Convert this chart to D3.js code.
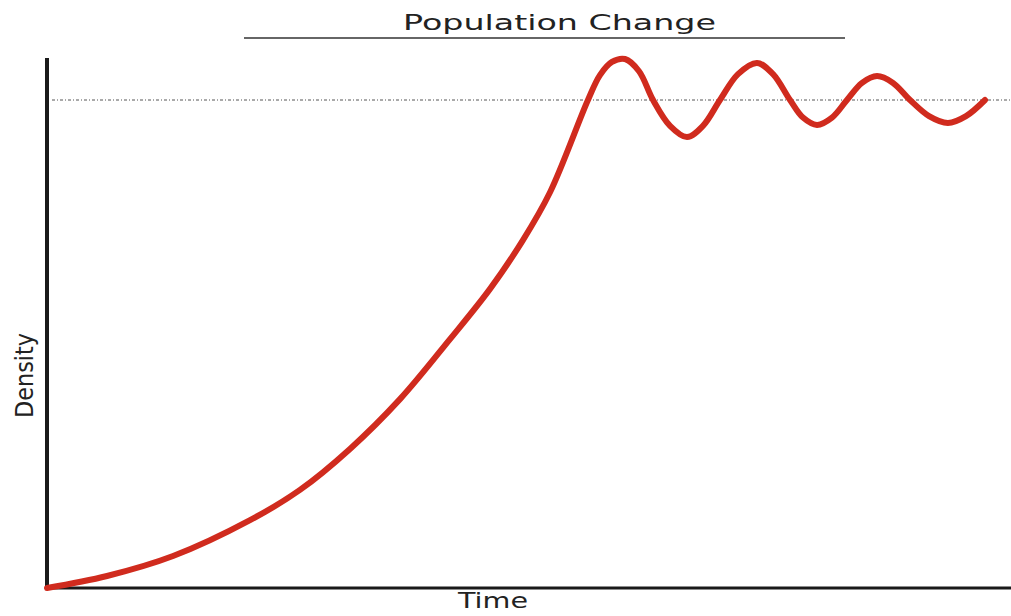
<!DOCTYPE html>
<html>
<head>
<meta charset="utf-8">
<script src="https://cdn.jsdelivr.net/npm/d3@7"></script>
<style>
  body { margin: 0; background: #fff; }
  svg { display: block; }
</style>
</head>
<body>
<div id="chart"></div>
<script>
// time (arbitrary units) and density (carrying capacity = 100)
var time = [0, 6.25, 13.13, 21.15, 26.35, 31.56, 36.77, 41.98, 46.15, 49.58, 52.40, 56.35, 57.6, 58.85,
            60.21, 61.67, 63.13, 64.9, 66.67, 68.33, 70.10, 71.98, 73.96, 75.63, 77.40,
            78.75, 80.21, 81.77, 83.33, 84.90, 86.46, 88.13, 89.90, 91.88, 93.85, 95.73, 97.71];
var density = [0, 2.46, 6.55, 13.9, 20.1, 28.5, 38.7, 51.0, 61.3, 71.3, 81.1, 100, 105.1, 107.8,
               108.4, 105.9, 100, 94.7, 92.4, 94.7, 100, 105.3, 107.6, 105.3, 100,
               96.4, 94.9, 96.4, 100, 103.5, 104.9, 103.5, 100, 96.7, 95.3, 96.7, 100];
var carryingCapacity = 100;
var title = "Population Change";
var xLabel = "Time";
var yLabel = "Density";

var width = 1011, height = 616;

var svg = d3.select("#chart").append("svg")
    .attr("width", width)
    .attr("height", height);

var x = d3.scaleLinear().domain([0, 100]).range([47, 1007]);
var y = d3.scaleLinear().domain([0, 100]).range([588, 100]);

// carrying capacity line
svg.append("line")
    .attr("x1", 52).attr("x2", width)
    .attr("y1", y(carryingCapacity)).attr("y2", y(carryingCapacity))
    .attr("stroke", "#555")
    .attr("stroke-width", 1)
    .attr("stroke-dasharray", "3,2,1,2");

// axes
svg.append("line")
    .attr("x1", 47).attr("x2", 47)
    .attr("y1", 58).attr("y2", 590)
    .attr("stroke", "#1a1a1a")
    .attr("stroke-width", 4);
svg.append("line")
    .attr("x1", 45).attr("x2", width)
    .attr("y1", 588).attr("y2", 588)
    .attr("stroke", "#1a1a1a")
    .attr("stroke-width", 3);

var data = time.map(function (t, i) { return [t, density[i]]; });

var line = d3.line()
    .x(function (d) { return x(d[0]); })
    .y(function (d) { return y(d[1]); })
    .curve(d3.curveCatmullRom.alpha(0.5));

svg.append("path")
    .datum(data)
    .attr("d", line)
    .attr("fill", "none")
    .attr("stroke", "#d02b1e")
    .attr("stroke-width", 6)
    .attr("stroke-linecap", "round");

// cut-off line of text above the title
svg.append("text")
    .attr("x", 259).attr("y", -7)
    .attr("font-family", "DejaVu Sans, sans-serif")
    .attr("font-size", 24)
    .attr("fill", "#222")
    .text("g");

// title + underline
svg.append("text")
    .attr("x", 403).attr("y", 30)
    .attr("font-family", "DejaVu Sans, sans-serif")
    .attr("font-size", 22)
    .attr("textLength", 313)
    .attr("lengthAdjust", "spacingAndGlyphs")
    .attr("fill", "#222")
    .text(title);

svg.append("line")
    .attr("x1", 244).attr("x2", 845)
    .attr("y1", 38).attr("y2", 38)
    .attr("stroke", "#333")
    .attr("stroke-width", 1.5);

svg.append("text")
    .attr("x", 458).attr("y", 608)
    .attr("font-family", "DejaVu Sans, sans-serif")
    .attr("font-size", 22)
    .attr("textLength", 70)
    .attr("lengthAdjust", "spacingAndGlyphs")
    .attr("fill", "#222")
    .text(xLabel);

svg.append("text")
    .attr("transform", "translate(33,418) rotate(-90)")
    .attr("font-family", "DejaVu Sans, sans-serif")
    .attr("font-size", 24)
    .attr("textLength", 85)
    .attr("lengthAdjust", "spacingAndGlyphs")
    .attr("fill", "#222")
    .text(yLabel);
</script>
</body>
</html>
